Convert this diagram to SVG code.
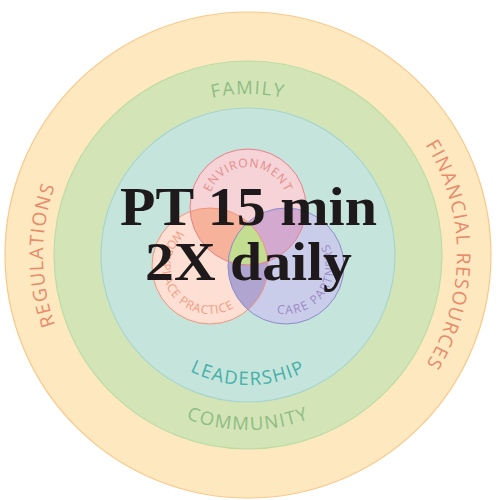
<svg xmlns="http://www.w3.org/2000/svg" width="497" height="500" viewBox="0 0 497 500">
<style>
.lbl{font-family:"Open Sans","Noto Sans","DejaVu Sans",sans-serif;}
.outer{font-size:19px;fill:#e98a6b;letter-spacing:1.4px;}
.green{font-size:18.5px;fill:#8fbc84;letter-spacing:1.6px;}
.teal{font-size:18.5px;fill:#45afa9;letter-spacing:1.4px;}
.venn{font-size:12px;letter-spacing:1px;}
.big{font-family:"Liberation Serif","Times New Roman",serif;font-weight:bold;font-size:54px;fill:#1e1a1b;}
</style>
<defs>
<path id="pFamily" d="M248,416 A161,161 0 0 1 248,94 A161,161 0 0 1 248,416"/>
<path id="pReg" d="M248,460 A205,205 0 0 1 248,50 A205,205 0 0 1 248,460"/>
<path id="pFin" d="M248,464 A209,209 0 0 1 248,46 A209,209 0 0 1 248,464"/>
<path id="pComm" d="M248,80 A175,175 0 0 0 248,430 A175,175 0 0 0 248,80"/>
<path id="pLead" d="M248,125 A130,130 0 0 0 248,385 A130,130 0 0 0 248,125"/>
<path id="pEnv" d="M248,247 A40,40 0 0 1 248,167 A40,40 0 0 1 248,247"/>
<path id="pWork" d="M210,218 A48,48 0 0 0 210,314 A48,48 0 0 0 210,218"/>
<path id="pCare" d="M286,218 A48,48 0 0 0 286,314 A48,48 0 0 0 286,218"/>
<clipPath id="cEnv"><circle cx="248" cy="207" r="58"/></clipPath>
<clipPath id="cWork"><circle cx="210" cy="266" r="58"/></clipPath>
<clipPath id="cCare"><circle cx="286" cy="266" r="58"/></clipPath>
</defs>

<g id="regulations-ring">
<circle cx="248" cy="255" r="243" fill="#fde8c0" stroke="#fbc888" stroke-width="1.2"/>
<text class="lbl outer"><textPath href="#pReg" startOffset="25%" text-anchor="middle">REGULATIONS</textPath></text>
<text class="lbl outer"><textPath href="#pFin" startOffset="75%" text-anchor="middle">FINANCIAL RESOURCES</textPath></text>
</g>

<g id="family-community-ring">
<circle cx="248" cy="255" r="194" fill="#d3e5b6" stroke="#bddca4" stroke-width="1.2"/>
<text class="lbl green"><textPath href="#pFamily" startOffset="50%" text-anchor="middle">FAMILY</textPath></text>
<text class="lbl green"><textPath href="#pComm" startOffset="50%" text-anchor="middle">COMMUNITY</textPath></text>
</g>

<g id="leadership-ring">
<circle cx="248" cy="255" r="147" fill="#c5e5dc" stroke="#a8d4cf" stroke-width="1.2"/>
<text class="lbl teal"><textPath href="#pLead" startOffset="50%" text-anchor="middle">LEADERSHIP</textPath></text>
</g>

<g id="venn-fills">
<circle cx="248" cy="207" r="58" fill="#f6d3d6"/>
<circle cx="210" cy="266" r="58" fill="#fddfd3"/>
<circle cx="286" cy="266" r="58" fill="#c9cde9"/>
<g clip-path="url(#cEnv)"><circle cx="210" cy="266" r="58" fill="#f6b29b"/></g>
<g clip-path="url(#cEnv)"><circle cx="286" cy="266" r="58" fill="#d3a9d0"/></g>
<g clip-path="url(#cWork)"><circle cx="286" cy="266" r="58" fill="#b0a4d1"/></g>
<g clip-path="url(#cEnv)"><g clip-path="url(#cWork)"><circle cx="286" cy="266" r="58" fill="#c3de90"/></g></g>
</g>

<g id="environment">
<circle cx="248" cy="207" r="58" fill="none" stroke="#e8808a" stroke-width="1"/>
<text class="lbl venn" fill="#e48c8c"><textPath href="#pEnv" startOffset="50%" text-anchor="middle">ENVIRONMENT</textPath></text>
</g>
<g id="workplace-practice">
<circle cx="210" cy="266" r="58" fill="none" stroke="#f2937b" stroke-width="1"/>
<text class="lbl venn" fill="#f39b83" style="letter-spacing:0.8px"><textPath href="#pWork" startOffset="35%" text-anchor="middle">WORKPLACE PRACTICE</textPath></text>
</g>
<g id="care-partners">
<circle cx="286" cy="266" r="58" fill="none" stroke="#8a8dca" stroke-width="1"/>
<text class="lbl venn" fill="#9d89c6" style="letter-spacing:1.4px"><textPath href="#pCare" startOffset="65%" text-anchor="middle">CARE PARTNERS</textPath></text>
</g>

<g id="title">
<text class="big" x="120" y="225" textLength="257" lengthAdjust="spacingAndGlyphs">PT 15 min</text>
<text class="big" x="145" y="280" textLength="207" lengthAdjust="spacingAndGlyphs">2X daily</text>
</g>
</svg>
